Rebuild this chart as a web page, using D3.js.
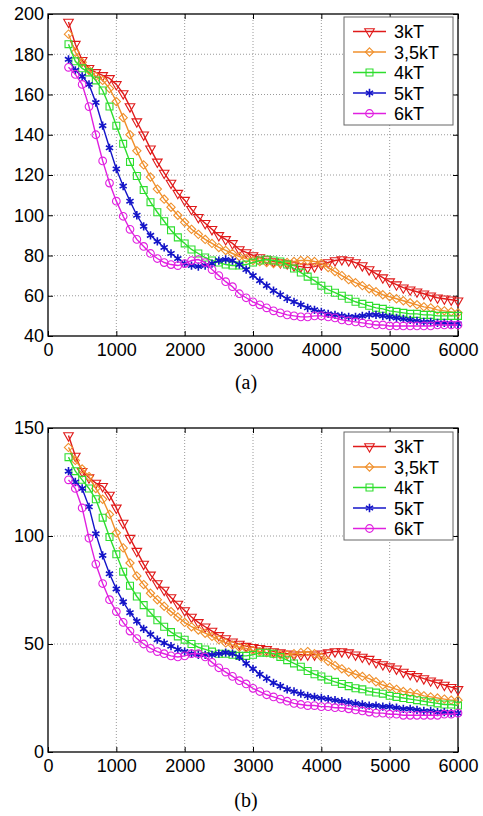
<!DOCTYPE html>
<html>
<head>
<meta charset="utf-8">
<script src="https://cdn.jsdelivr.net/npm/d3@7"></script>
<style>
  body { margin: 0; background: #fff; }
  svg text { font-family: "Liberation Sans", Arial, sans-serif; }
</style>
</head>
<body>
<div id="chart"></div>
<script>
var width = 483;
var height = 816;

// Shared x values (markers every 100)
var xValues = [300, 400, 500, 600, 700, 800, 900, 1000, 1100, 1200, 1300, 1400, 1500, 1600, 1700, 1800, 1900, 2000,
  2100, 2200, 2300, 2400, 2500, 2600, 2700, 2800, 2900, 3000, 3100, 3200, 3300, 3400, 3500, 3600, 3700, 3800, 3900, 4000,
  4100, 4200, 4300, 4400, 4500, 4600, 4700, 4800, 4900, 5000, 5100, 5200, 5300, 5400, 5500, 5600, 5700, 5800, 5900, 6000];

var seriesNames = ["3kT", "3,5kT", "4kT", "5kT", "6kT"];

// Panel (a)
var a3kT = [196, 185, 177, 173, 171, 169.5, 168, 165, 160.5, 154, 146.5, 140, 133, 126.5, 121, 116, 111, 107.5,
  103, 99, 96, 93, 90, 88, 86, 83, 81.5, 80, 79, 78, 77, 76.5, 76, 75, 74.5, 74, 74.5, 75.5,
  76.5, 77.5, 78, 77.5, 76.5, 75, 73, 71, 69, 67, 65.5, 64, 63, 62, 61, 60, 59, 58.5, 58, 57.5];
var a35kT = [190, 181, 176, 172, 169, 167, 163, 156.5, 148.5, 140, 132, 125, 119, 113, 108, 104, 100, 96.5,
  93, 90.5, 88, 86, 84, 82.5, 81, 79.5, 78.5, 77.5, 77, 76.5, 76, 76, 76.5, 77, 77.5, 77.5, 77, 76,
  74, 72, 70, 68, 66.5, 65, 63.5, 62, 60.5, 59.5, 58.5, 57.5, 56.5, 55.5, 54.5, 54, 53, 52.5, 52, 51.5];
var a4kT = [185, 176.5, 173, 171, 167, 162, 154, 144.5, 135.5, 126.5, 119.5, 112.5, 106.5, 101.5, 97, 92.5, 89, 86,
  83, 81, 79, 77.5, 76.5, 75.5, 75, 75, 75.5, 76.5, 77.5, 78, 77.5, 77, 75.5, 73.5, 71.5, 69.5, 67.5, 65,
  63, 61.5, 60, 58.5, 57, 56, 55, 54, 53.5, 52.5, 52, 51.5, 51, 51, 50.5, 50.5, 50, 50, 50, 50];
var a5kT = [177.5, 172, 169, 165, 156, 144.5, 133.5, 123, 114.5, 107, 100, 94.5, 90, 87, 84, 81, 78.5, 76,
  75, 74.5, 75, 76, 77.5, 78, 77.5, 75.5, 73, 70, 67.5, 65, 62.5, 60.5, 58.5, 57, 55.5, 54, 53, 52,
  51, 50.5, 50, 49.5, 49.5, 50, 50.5, 50.5, 50, 49.5, 49, 48.5, 48, 47.5, 47, 47, 46.5, 46.5, 46, 46];
var a6kT = [173.5, 170, 165, 154, 140, 127, 116, 107, 99.5, 93, 88, 84.5, 81, 78.5, 76.5, 75.5, 75, 76,
  77.5, 78, 76.5, 73, 70, 67, 64.5, 61, 59, 57, 55.5, 54, 52.5, 51.5, 50.5, 50, 49.5, 49.5, 50, 50,
  49.5, 49, 48, 47.5, 47, 46.5, 46, 45.5, 45.5, 45, 45, 45, 45, 45, 45, 45, 45.5, 45.5, 45.5, 45.5];

// Panel (b)
var b3kT = [146.5, 137, 130, 127, 124.5, 123, 119, 113, 106, 99, 93, 87, 82, 78, 75, 71.5, 68.5, 65.5,
  62.5, 60, 58, 56, 54, 52.5, 51, 50, 49, 48.5, 48, 47.5, 46.5, 46, 45.5, 45, 45, 45, 45, 45.5,
  46, 46.5, 46.5, 46, 45, 44, 43, 41.5, 40.5, 39.5, 38.5, 37, 36, 35, 34, 33, 32, 31, 30, 29];
var b35kT = [141, 135, 131, 127.5, 122, 117, 110, 101.5, 94.5, 87.5, 81.5, 77.5, 73.5, 70.5, 67.5, 65, 62.5, 60,
  58, 56.5, 55, 53.5, 52, 50.5, 49.5, 48.5, 48, 47, 46.5, 46, 45.5, 45, 45, 45.5, 46, 46.5, 45.5, 44,
  42, 40, 38.5, 37, 36, 35, 34, 32.5, 31, 30, 29, 28, 27.5, 27, 26, 25.5, 25, 24.5, 24, 24];
var b4kT = [136.5, 130, 126, 122, 117, 108.5, 99.5, 91.5, 83.5, 77, 72, 68, 64.5, 61, 58, 55.5, 53.5, 52,
  50, 48.5, 47.5, 46.5, 45.5, 45.5, 45, 44.5, 44.5, 45, 46, 46, 45.5, 44, 42.5, 41, 39.5, 37.5, 36, 35,
  33.5, 32.5, 31.5, 30.5, 29.5, 29, 28, 27.5, 27, 26, 25.5, 25, 24.5, 24, 23.5, 23, 22.5, 22, 22, 21.5];
var b5kT = [130, 125, 122, 113.5, 101, 91, 82.5, 75.5, 69.5, 64.5, 60.5, 57, 54.5, 52, 50.5, 49, 47.5, 46.5,
  45.5, 45, 45, 45, 45.5, 46, 45.5, 44, 41, 38.5, 36, 34, 32, 30.5, 29, 28, 27, 26, 25.5, 25,
  24.5, 24, 23.5, 23, 22.5, 22, 21.5, 21.5, 21, 21, 20.5, 20, 20, 19.5, 19, 19, 18.5, 18.5, 18, 18];
var b6kT = [126, 122, 113, 99, 87, 78, 70.5, 65, 60, 56, 52.5, 50, 48, 46.5, 45.5, 44.5, 44, 44.5,
  45.5, 45.5, 44, 41.5, 39, 37, 35, 33, 31.5, 29.5, 28, 26.5, 25.5, 24.5, 23.5, 22.5, 22, 21.5, 21.5, 21,
  21, 20.5, 20.5, 20, 19.5, 19, 18.5, 18, 18, 17.5, 17.5, 17, 17, 17, 17, 17, 17, 17.5, 17.5, 18];

var xTicks = [0, 1000, 2000, 3000, 4000, 5000, 6000];
var yTicksA = [40, 60, 80, 100, 120, 140, 160, 180, 200];
var yTicksB = [0, 50, 100, 150];

// Styles per series
var colors = ["#e01a1a", "#f0902c", "#2ede2e", "#1414c8", "#e020e0"];
var shapes = ["triangleDown", "diamond", "square", "star", "circle"];

var svg = d3.select("#chart").append("svg")
    .attr("width", width)
    .attr("height", height);

function markerPath(shape) {
  if (shape == "triangleDown") return d3.symbol(d3.symbolTriangle, 40)();
  if (shape == "diamond") return d3.symbol(d3.symbolDiamond2, 44)();
  if (shape == "square") return d3.symbol(d3.symbolSquare, 48)();
  if (shape == "star") return d3.symbol(d3.symbolAsterisk, 48)();
  return d3.symbol(d3.symbolCircle, 46)();
}

function drawPanel(opts) {
  var w = 410, h = opts.bottom - opts.top;
  var g = svg.append("g").attr("transform", "translate(48," + opts.top + ")");

  var x = d3.scaleLinear().domain([0, 6000]).range([0, w]);
  var y = d3.scaleLinear().domain(opts.yDomain).range([h, 0]);

  // Dotted grid
  g.append("g").selectAll("line.vgrid").data(xTicks.slice(1, -1)).enter()
    .append("line")
      .attr("x1", d => x(d)).attr("x2", d => x(d))
      .attr("y1", 0).attr("y2", h)
      .attr("stroke", "#9a9a9a").attr("stroke-width", 1).attr("stroke-dasharray", "1,2");
  g.append("g").selectAll("line.hgrid").data(opts.yTicks.slice(1, -1)).enter()
    .append("line")
      .attr("x1", 0).attr("x2", w)
      .attr("y1", d => y(d)).attr("y2", d => y(d))
      .attr("stroke", "#9a9a9a").attr("stroke-width", 1).attr("stroke-dasharray", "1,2");

  // Axes with inward ticks on all four sides
  g.append("g").attr("transform", "translate(0," + h + ")")
    .call(d3.axisBottom(x).tickValues(xTicks).tickSize(-5).tickPadding(7).tickFormat(d3.format("d")));
  g.append("g")
    .call(d3.axisLeft(y).tickValues(opts.yTicks).tickSize(-5).tickPadding(4));
  g.append("g").call(d3.axisTop(x).tickValues(xTicks).tickSize(-5).tickFormat(""));
  g.append("g").attr("transform", "translate(" + w + ",0)")
    .call(d3.axisRight(y).tickValues(opts.yTicks).tickSize(-5).tickFormat(""));

  g.selectAll(".domain").remove();
  g.selectAll(".tick line").attr("stroke", "#000");
  g.selectAll(".tick text").attr("fill", "#000")
    .style("font-family", "'Liberation Sans', Arial, sans-serif")
    .style("font-size", "18px");

  g.append("rect")
    .attr("width", w).attr("height", h)
    .attr("fill", "none").attr("stroke", "#000").attr("stroke-width", 1.3);

  var line = d3.line().x((d, i) => x(xValues[i])).y(d => y(d));

  opts.series.forEach(function(values, k) {
    g.append("path")
      .datum(values)
      .attr("d", line)
      .attr("fill", "none")
      .attr("stroke", colors[k])
      .attr("stroke-width", 1.4);

    g.append("g").selectAll("path.marker")
      .data(values).enter()
      .append("path")
        .attr("d", markerPath(shapes[k]))
        .attr("transform", (d, i) => "translate(" + x(xValues[i]) + "," + y(d) + ")" +
          (shapes[k] == "triangleDown" ? " rotate(180)" : ""))
        .attr("fill", "none")
        .attr("stroke", colors[k])
        .attr("stroke-width", shapes[k] == "star" ? 1.6 : 1.1);
  });

  // Legend
  var lg = g.append("g").attr("transform", "translate(296," + opts.legendTop + ")");
  lg.append("rect")
    .attr("width", 109).attr("height", 108)
    .attr("fill", "#fff").attr("stroke", "#666").attr("stroke-width", 1);
  seriesNames.forEach(function(name, k) {
    var ry = 14.5 + k * 20.5;
    lg.append("line")
      .attr("x1", 9).attr("x2", 42).attr("y1", ry).attr("y2", ry)
      .attr("stroke", colors[k]).attr("stroke-width", 1.4);
    lg.append("path")
      .attr("d", markerPath(shapes[k]))
      .attr("transform", "translate(25.5," + ry + ")" + (shapes[k] == "triangleDown" ? " rotate(180)" : ""))
      .attr("fill", "none").attr("stroke", colors[k])
      .attr("stroke-width", shapes[k] == "star" ? 1.6 : 1.1);
    lg.append("text")
      .attr("x", 50).attr("y", ry + 6.5)
      .style("font-size", "18px")
      .text(name);
  });

  // Caption
  svg.append("text")
    .attr("x", 246).attr("y", opts.captionY)
    .attr("text-anchor", "middle")
    .style("font-family", "'Liberation Serif', 'Times New Roman', serif")
    .style("font-size", "20px")
    .text(opts.caption);
}

drawPanel({
  top: 14, bottom: 336, yDomain: [40, 200], yTicks: yTicksA,
  series: [a3kT, a35kT, a4kT, a5kT, a6kT],
  legendTop: 3, caption: "(a)", captionY: 389
});

drawPanel({
  top: 428, bottom: 752, yDomain: [0, 150], yTicks: yTicksB,
  series: [b3kT, b35kT, b4kT, b5kT, b6kT],
  legendTop: 4, caption: "(b)", captionY: 807
});
</script>
</body>
</html>
